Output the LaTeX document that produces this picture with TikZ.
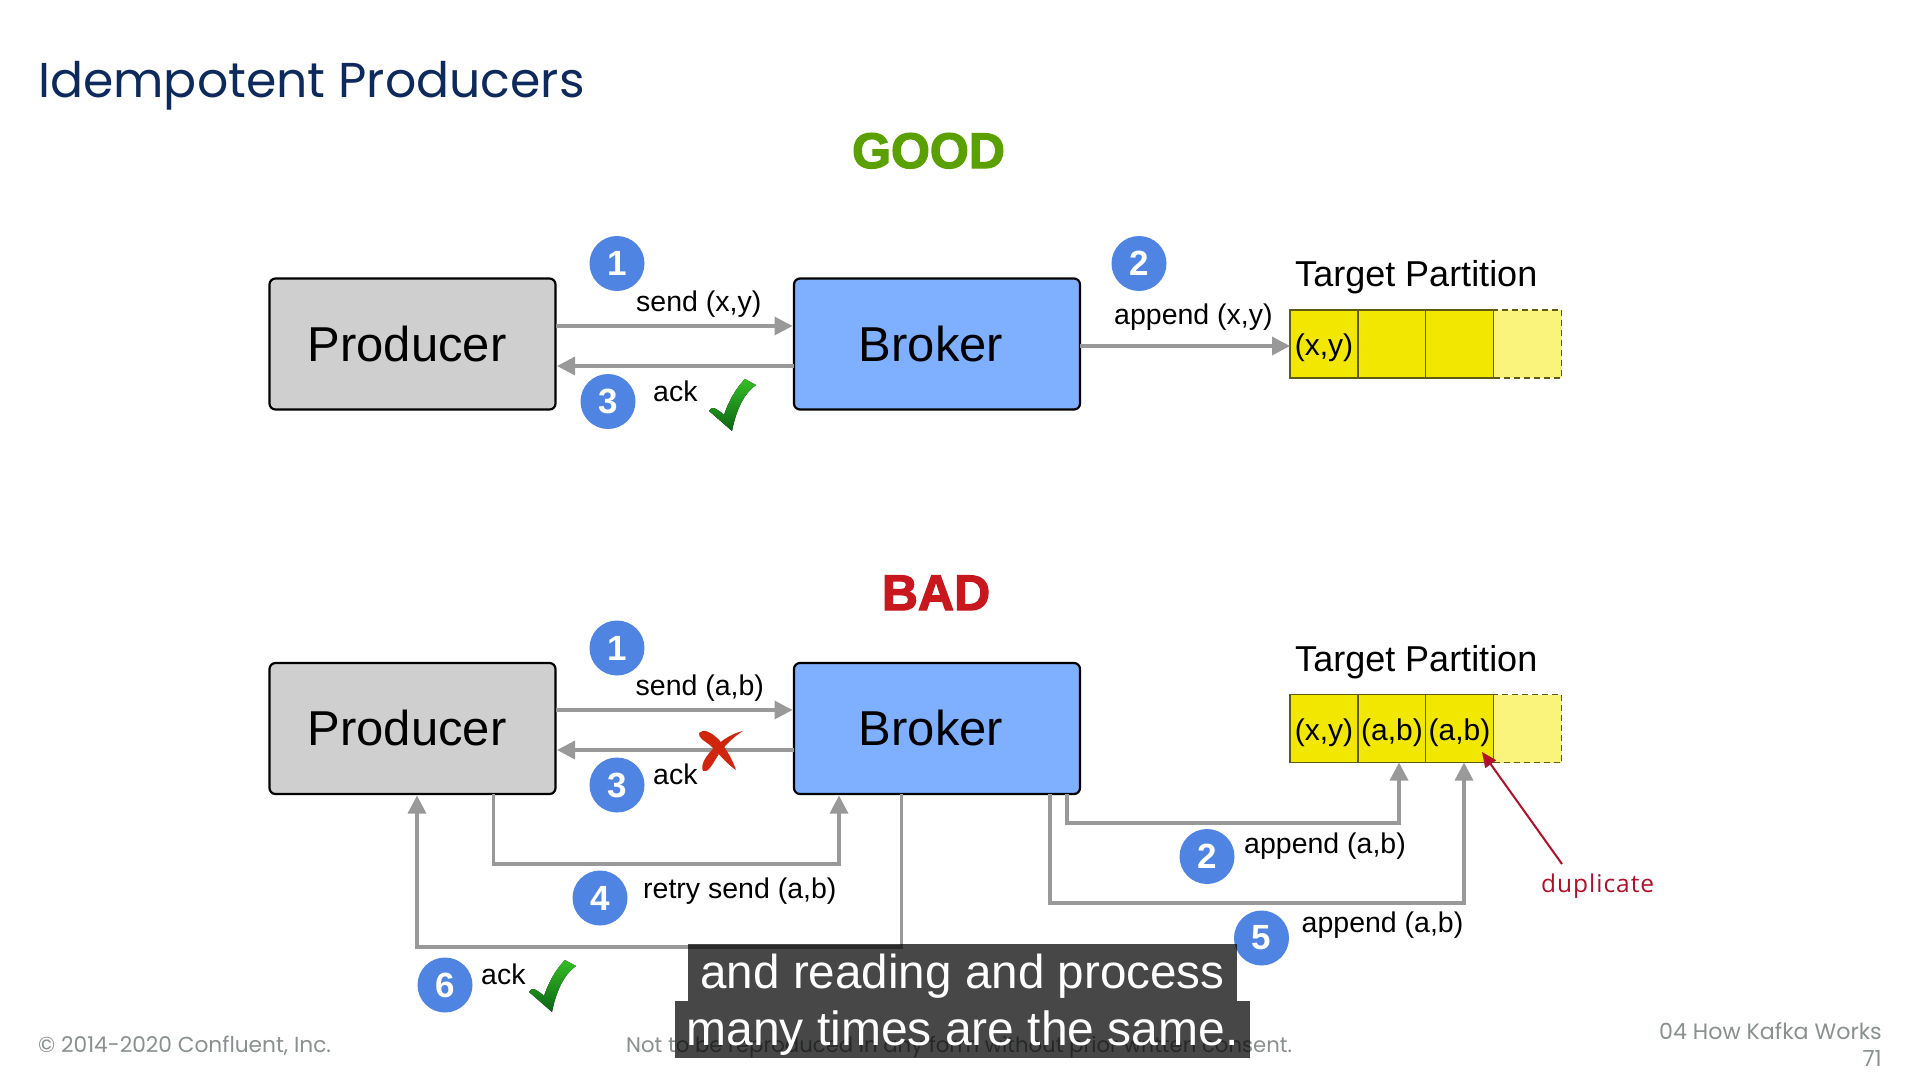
\documentclass[tikz,border=0pt]{standalone}
\usepackage{fontspec}
\setmainfont{Liberation Sans}
\newfontfamily\brandfont{Poppins}
\newfontfamily\capfont{Liberation Sans}
\newfontfamily\handfont[LetterSpace=4]{Open Sans}
\newfontfamily\heavyfont[FakeBold=2.5]{Liberation Sans Bold}
\usetikzlibrary{arrows.meta}
\definecolor{boxgrey}{HTML}{CFCFCF}
\definecolor{boxblue}{HTML}{7FB0FF}
\definecolor{stepblue}{HTML}{4F84E2}
\definecolor{linegrey}{HTML}{999999}
\definecolor{cellyellow}{HTML}{F2E700}
\definecolor{celllight}{HTML}{FBF47C}
\definecolor{celledge}{HTML}{5F5C12}
\definecolor{titleblue}{HTML}{0E2A5C}
\definecolor{footgrey}{HTML}{8A9090}
\definecolor{goodgreen}{HTML}{5AA000}
\definecolor{badred}{HTML}{C8171D}
\definecolor{dupred}{HTML}{B0102A}
\definecolor{crossred}{HTML}{D0260E}
\definecolor{tickhi}{HTML}{35BE25}
\definecolor{tickmid}{HTML}{1F9A1C}
\definecolor{ticklo}{HTML}{0B6414}
\newcommand{\fsz}[1]{\fontsize{#1}{#1}\selectfont}
\newcommand{\greencheck}[2]{%
  \fill[shift={(#1,#2)},top color=tickhi,middle color=tickmid,bottom color=ticklo]
    (756,385) .. controls (746,392) and (737,406) .. (732,431)
    .. controls (724,424) and (716,417) .. (709,411)
    .. controls (710,408) and (712,408) .. (714,408)
    .. controls (718,410) and (721,412) .. (724,415)
    .. controls (728,403) and (735,389) .. (745,379) -- cycle;}
\tikzset{
  x=1pt,y=-1pt,
  mainbox/.style={draw=black,line width=2.2pt,rounded corners=6pt,minimum width=286pt,minimum height=131pt,inner sep=0pt,outer sep=0pt,text height=34pt,text depth=0pt,font=\fsz{49}},
  stepdot/.style={circle,fill=stepblue,minimum size=55pt,inner sep=0pt,text=white,font=\bfseries\fsz{35}},
  lbl/.style={anchor=base west,inner sep=0pt,font=\fsz{28.5}},
  heading/.style={anchor=base west,inner sep=0pt,font=\fsz{36}},
  cellbox/.style={draw=celledge,line width=1.5pt,fill=cellyellow,minimum height=68pt,inner sep=0pt,outer sep=0pt,text height=28pt,text depth=5pt,font=\fsz{30}},
  ghostcell/.style={cellbox,fill=celllight,dash pattern=on 6pt off 4pt},
  flow/.style={draw=linegrey,line width=3.4pt,-{Triangle[length=18pt,width=18pt]},shorten >=1.5pt},
  capbox/.style={fill=black,fill opacity=.72,text opacity=1,text=white,inner sep=0pt,outer sep=0pt,text height=44pt,text depth=13pt},
  foot/.style={inner sep=0pt,text=footgrey},
  bigword/.style={anchor=base,inner sep=0pt,font=\heavyfont\fsz{50}},
}
\begin{document}
\begin{tikzpicture}
\useasboundingbox (0,0) rectangle (1920,1080);
\fill[white] (0,0) rectangle (1920,1080);

\node[anchor=base west,inner sep=0pt,text=titleblue,font=\brandfont\fsz{48.9}] (title) at (38,97) {Idempotent Producers};
\node[bigword,text=goodgreen] (good) at (928.5,168) {GOOD};
\node[bigword,text=badred] (bad) at (936,610) {BAD};

% GOOD row
\node[mainbox,fill=boxgrey] (p1) at (412.5,344) {Producer\hspace*{11pt}};
\node[mainbox,fill=boxblue] (b1) at (937,344) {Broker\hspace*{12pt}};
\node[stepdot] (g1) at (617,263.5) {1};
\node[stepdot] (g2) at (1139,263.5) {2};
\node[stepdot] (g3) at (608,401.5) {3};
\node[lbl] (gsend) at (636,311) {send (x,y)};
\node[lbl] (gack) at (653,401) {ack};
\node[lbl] (gapp) at (1114,324) {append (x,y)};
\node[heading] (gtp) at (1295,286) {Target Partition};
\node[ghostcell,minimum width=68pt] (g4c) at (1527.5,344) {};
\node[cellbox,minimum width=68pt] (g1c) at (1324,344) {(x,y)};
\node[cellbox,minimum width=68pt] (g2c) at (1392,344) {};
\node[cellbox,minimum width=68pt] (g3c) at (1459.5,344) {};
\draw[flow] ([yshift=18pt]p1.east) -- ([yshift=18pt]b1.west);
\draw[flow] ([yshift=-22pt]b1.west) -- ([yshift=-22pt]p1.east);
\draw[flow,shorten >=0pt] ([yshift=-2pt]b1.east) -- ([yshift=-2pt]g1c.west);
\greencheck{0}{0}

% BAD row
\node[mainbox,fill=boxgrey] (p2) at (412.5,728.5) {Producer\hspace*{11pt}};
\node[mainbox,fill=boxblue] (b2) at (937,728.5) {Broker\hspace*{12pt}};
\node[stepdot] (r1) at (617,648) {1};
\node[stepdot] (r3) at (617,785) {3};
\node[stepdot] (r4) at (600,898) {4};
\node[stepdot] (r6) at (445,985) {6};
\node[stepdot] (r2) at (1207,856.5) {2};
\node[stepdot] (r5) at (1261.5,938) {5};
\node[lbl] (rsend) at (635.5,695) {send (a,b)};
\node[lbl] (rack) at (653,784) {ack};
\node[lbl] (rretry) at (643,898) {retry send (a,b)};
\node[lbl] (rackb) at (481,984) {ack};
\node[lbl] (rapp2) at (1244,853) {append (a,b)};
\node[lbl] (rapp5) at (1301.5,932) {append (a,b)};
\node[heading] (rtp) at (1295,671) {Target Partition};
\node[ghostcell,minimum width=68pt] (r4c) at (1527.5,728.5) {};
\node[cellbox,minimum width=68pt] (r1c) at (1324,728.5) {(x,y)};
\node[cellbox,minimum width=68pt] (r2c) at (1392,728.5) {(a,b)};
\node[cellbox,minimum width=68pt] (r3c) at (1459.5,728.5) {(a,b)};

\draw[flow] ([yshift=18.5pt]p2.east) -- ([yshift=18.5pt]b2.west);
\draw[flow] ([yshift=-21.5pt]b2.west) -- ([yshift=-21.5pt]p2.east);
\draw[flow] ([xshift=81pt]p2.south) -- ++(0,70) -| ([xshift=-98pt]b2.south);
\draw[flow] ([xshift=-35.5pt]b2.south) -- ++(0,153) -| ([xshift=4.5pt]p2.south);
\draw[flow,shorten >=0pt] ([xshift=130pt]b2.south) -- ++(0,29) -| ([xshift=7pt]r2c.south);
\draw[flow,shorten >=0pt] ([xshift=113pt]b2.south) -- ++(0,109) -| ([xshift=4.5pt]r3c.south);

% red cross
\fill[crossred]
  (699,733) .. controls (703,728) and (712,732) .. (720,741)
  .. controls (727,750) and (733,761) .. (736,770)
  .. controls (728,765) and (718,753) .. (711,746)
  .. controls (705,741) and (698,738) .. cycle;
\fill[crossred]
  (743,731) .. controls (733,733) and (722,740) .. (716,746)
  .. controls (706,755) and (700,765) .. (703,771)
  .. controls (708,773) and (712,765) .. (717,757)
  .. controls (722,748) and (733,737) .. cycle;
\greencheck{-180}{581}

% duplicate note
\coordinate (dupstart) at (1562,864);
\coordinate (duptip) at (1482,752);
\draw[dupred,line width=2pt,-{Triangle[length=15pt,width=13pt]}] (dupstart) -- (duptip);
\node[anchor=base west,inner sep=0pt,text=dupred,font=\handfont\fsz{24.5}] (dup) at (1541,892) {duplicate};

% footer
\node[foot,anchor=base west,font=\brandfont\fsz{21.7}] (copy) at (38,1052) {© 2014-2020 Confluent, Inc.};
\node[foot,anchor=base west,font=\brandfont\fsz{21.2}] (rights) at (626,1052) {Not to be reproduced in any form without prior written consent.};
\node[foot,anchor=base east,font=\brandfont\fsz{22.2}] (chap) at (1882,1039) {04 How Kafka Works};
\node[foot,anchor=base east,font=\brandfont\fsz{22.2}] (page) at (1882,1066) {71};

% caption
\node[capbox,anchor=north,minimum width=549pt,font=\capfont\fsz{47.6}] (cap1) at (962.5,944) {and reading and process};
\node[capbox,anchor=north,minimum width=575pt,font=\capfont\fsz{48}] (cap2) at (962.5,1001) {many times are the same.};
\end{tikzpicture}
\end{document}
